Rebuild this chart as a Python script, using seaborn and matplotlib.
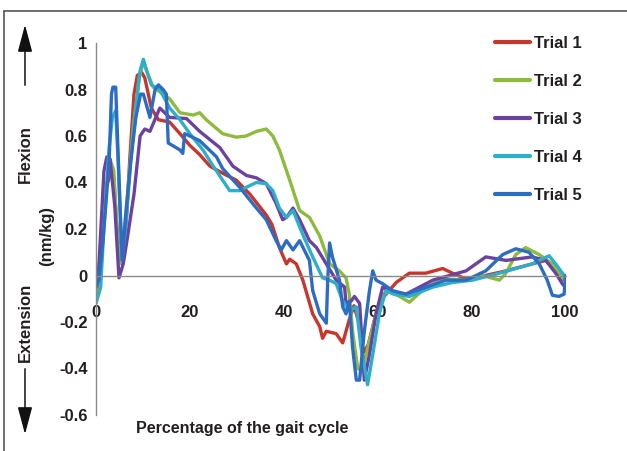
import matplotlib
matplotlib.use("Agg")
import matplotlib.pyplot as plt
from matplotlib.lines import Line2D
from matplotlib.patches import FancyArrowPatch
import seaborn as sns
import pandas as pd

# values (percent of gait cycle, moment in nm/kg)
trial1_x = [0, 1.2, 2.2, 3.1, 3.8, 4.3, 5.0, 5.6, 6.5, 7.2, 8.1, 8.8, 9.7, 10.4, 11.8, 13.3, 15.7, 17.9,
            20, 22.1, 24.3, 27, 29.9, 32.8, 36.3, 37.5, 39.1, 40.6, 41.3, 42.7, 44.1, 46.2, 47.7, 48.3,
            49.1, 51.2, 52.6, 54, 55, 56, 57, 58, 59.5, 61, 62.5, 64, 66.8, 70.3, 73.9, 76, 78.9, 83,
            87.4, 93, 95.9, 98, 99.4, 100]
trial1_y = [-0.11, 0.15, 0.38, 0.44, 0.42, 0.25, 0.08, 0.05, 0.25, 0.5, 0.78, 0.86, 0.875, 0.85, 0.72,
            0.67, 0.66, 0.61, 0.56, 0.52, 0.47, 0.44, 0.41, 0.35, 0.26, 0.22, 0.12, 0.05, 0.07, 0.05,
            -0.02, -0.165, -0.22, -0.27, -0.24, -0.25, -0.29, -0.19, -0.13, -0.2, -0.33, -0.3, -0.18,
            -0.1, -0.065, -0.03, 0.01, 0.01, 0.03, 0.01, -0.015, 0, 0.02, 0.05, 0.065, 0.02, -0.015, -0.02]

trial2_x = [0, 1, 2, 3, 3.8, 4.6, 5.4, 6.5, 8, 9.2, 10.1, 11, 12.2, 14.3, 15.7, 17.9, 20.7, 22.1, 23.5,
            27, 29.9, 32, 34.2, 36.3, 37.7, 39.1, 41.3, 43.4, 45.5, 47.7, 49.8, 51.9, 53.3, 54, 54.7,
            55.8, 56.8, 58.3, 59.7, 61.1, 62.5, 64.7, 66.8, 70.4, 73.9, 78.9, 82.4, 86, 87.4, 89.5,
            91.6, 94.5, 97.3, 99.4, 100]
trial2_y = [-0.08, 0.1, 0.35, 0.5, 0.45, 0.15, 0.05, 0.3, 0.65, 0.85, 0.92, 0.87, 0.81, 0.78, 0.76, 0.70,
            0.69, 0.70, 0.67, 0.61, 0.595, 0.60, 0.62, 0.63, 0.60, 0.54, 0.41, 0.28, 0.25, 0.17, 0.05,
            0.02, -0.01, -0.08, -0.24, -0.40, -0.41, -0.28, -0.165, -0.08, -0.07, -0.09, -0.115, -0.05,
            -0.015, -0.02, 0, -0.02, 0.01, 0.09, 0.12, 0.09, 0.05, -0.01, -0.02]

trial3_x = [0, 0.6, 1.7, 2.3, 3, 4, 4.9, 5.8, 6.6, 8.1, 9.4, 10.4, 11.5, 13.6, 15.7, 19.3, 22.1, 26.4,
            29.2, 32.1, 34.2, 36.3, 38.4, 39.8, 40.6, 42, 43.4, 45.5, 47, 49.1, 51.2, 53, 53.3, 54.4,
            55.1, 56.2, 57.2, 58.3, 59.7, 61.1, 63, 66.1, 71.8, 78.9, 83.1, 87.4, 93, 95.9, 98, 99.4, 100]
trial3_y = [-0.03, 0.035, 0.45, 0.51, 0.5, 0.3, -0.01, 0.05, 0.15, 0.35, 0.60, 0.63, 0.62, 0.72, 0.68,
            0.675, 0.62, 0.55, 0.47, 0.43, 0.42, 0.395, 0.31, 0.24, 0.25, 0.29, 0.24, 0.15, 0.12, 0.05,
            -0.02, -0.05, -0.12, -0.11, -0.09, -0.12, -0.45, -0.34, -0.165, -0.05, -0.07, -0.08, -0.02,
            0.02, 0.08, 0.065, 0.08, 0.065, 0.01, -0.035, -0.05]

trial4_x = [0, 1, 1.7, 2.8, 3.5, 4.2, 4.8, 5.5, 6.3, 7.4, 8.5, 9.4, 10.1, 10.8, 11.8, 13.6, 15.7, 17.9,
            20, 22.8, 25, 27, 28.5, 30.6, 32.1, 34.2, 36.3, 37.7, 39.1, 40.6, 42, 43.4, 44, 46.2, 48.3,
            49.8, 51.2, 52.6, 54, 55.5, 56.5, 57.9, 59, 60.4, 61.8, 63.5, 66.8, 71.8, 76, 80.3, 86, 93,
            96.6, 98, 99.8, 100]
trial4_y = [-0.12, -0.05, 0.21, 0.55, 0.68, 0.71, 0.45, 0.065, 0.2, 0.49, 0.72, 0.88, 0.93, 0.88, 0.82,
            0.80, 0.72, 0.67, 0.61, 0.54, 0.47, 0.41, 0.365, 0.365, 0.38, 0.40, 0.395, 0.365, 0.29, 0.25,
            0.28, 0.21, 0.18, 0.08, -0.01, -0.02, -0.035, -0.11, -0.15, -0.135, -0.31, -0.47, -0.34,
            -0.165, -0.065, -0.08, -0.09, -0.05, -0.03, -0.02, 0.01, 0.05, 0.085, 0.05, 0, -0.02]

trial5_x = [0, 0.6, 1.5, 2.8, 3.3, 3.6, 4.2, 4.5, 5.3, 5.6, 6.3, 7.4, 8.5, 9.5, 10.1, 11.5, 12.6, 13.3,
            14.3, 15, 15.4, 17.9, 18.5, 18.9, 20, 22.1, 25.7, 27, 30.6, 34.2, 36.3, 38.4, 39.5, 40.6,
            42, 43.4, 45.5, 46.2, 47.7, 49.1, 49.4, 49.8, 50.4, 51.9, 52.6, 53.3, 54, 54.7, 55.5, 56.2,
            57.2, 58.3, 59, 59.7, 61.1, 63.2, 66.1, 70.4, 74.6, 78.9, 83.1, 86.7, 89.5, 92.3, 94.5,
            96.2, 97.3, 98.7, 99.8, 100.1]
trial5_y = [-0.05, -0.02, 0.15, 0.49, 0.78, 0.81, 0.81, 0.64, 0.21, 0.065, 0.25, 0.49, 0.68, 0.78, 0.78,
            0.68, 0.80, 0.82, 0.80, 0.78, 0.57, 0.54, 0.525, 0.61, 0.60, 0.58, 0.51, 0.46, 0.38, 0.29,
            0.24, 0.15, 0.11, 0.15, 0.11, 0.15, 0.065, -0.065, -0.165, -0.205, -0.02, 0.14, 0.08, -0.02,
            -0.135, -0.165, -0.11, -0.31, -0.45, -0.45, -0.24, -0.065, 0.02, -0.02, -0.035, -0.065,
            -0.08, -0.05, -0.02, -0.02, 0.02, 0.09, 0.115, 0.10, 0.05, -0.02, -0.085, -0.09, -0.08, 0]

trial_names = ["Trial 1", "Trial 2", "Trial 3", "Trial 4", "Trial 5"]
trial_colors = ["#C8352C", "#8DBB3E", "#6C42A0", "#2DAECB", "#2C6CC2"]

x_ticks = [0, 20, 40, 60, 80, 100]
y_ticks = [-0.6, -0.4, -0.2, 0, 0.2, 0.4, 0.6, 0.8, 1]
y_tick_labels = ["-0.6", "-0.4", "-0.2", "0", "0.2", "0.4", "0.6", "0.8", "1"]

# build a long table for seaborn
xs = [trial1_x, trial2_x, trial3_x, trial4_x, trial5_x]
ys = [trial1_y, trial2_y, trial3_y, trial4_y, trial5_y]
frames = []
for name, x, y in zip(trial_names, xs, ys):
    frames.append(pd.DataFrame({"pct": x, "moment": y, "trial": name}))
df = pd.concat(frames, ignore_index=True)

sns.set_style("white")
plt.rcParams["font.family"] = ["Liberation Sans Narrow", "Liberation Sans", "DejaVu Sans"]
plt.rcParams["font.weight"] = "bold"
text_color = "#231F20"
axis_color = "#8A8A8A"

fig = plt.figure(figsize=(6.27, 4.51), dpi=100)
ax = fig.add_axes([96 / 627, 1 - 415 / 451, 470 / 627, 372 / 451])

sns.lineplot(data=df, x="pct", y="moment", hue="trial", palette=trial_colors,
             estimator=None, sort=False, linewidth=2.4, ax=ax,
             solid_joinstyle="round", solid_capstyle="round")

ax.set_xlim(0, 100.2)
ax.set_ylim(-0.6, 1.0)

# excel-like axes: y axis on the left, x axis crossing at zero
ax.spines["top"].set_visible(False)
ax.spines["right"].set_visible(False)
ax.spines["bottom"].set_position(("data", 0))
for side in ["left", "bottom"]:
    ax.spines[side].set_color(axis_color)
    ax.spines[side].set_linewidth(1.0)

ax.set_xticks(x_ticks)
ax.set_xticklabels([str(t) for t in x_ticks])
ax.set_yticks(y_ticks)
ax.set_yticklabels(y_tick_labels)
ax.tick_params(axis="x", direction="out", length=4, width=1, color=axis_color, pad=17,
               labelsize=12, labelcolor=text_color)
ax.tick_params(axis="y", direction="out", length=4, width=1, color=axis_color, pad=2,
               labelsize=12, labelcolor=text_color)
for lab in ax.get_xticklabels() + ax.get_yticklabels():
    lab.set_fontweight("bold")
ax.set_xlabel("")
ax.set_ylabel("")
ax.grid(False)

# legend at the upper right
handles = [Line2D([0], [0], color=c, linewidth=3) for c in trial_colors]
ax.legend(handles, trial_names, loc="upper left", bbox_to_anchor=(495 / 627, 1 - 36 / 451),
          bbox_transform=fig.transFigure, frameon=False, handlelength=2.1, handletextpad=0.25,
          labelspacing=1.38, borderpad=0, borderaxespad=0,
          prop={"size": 12, "weight": "bold"}, labelcolor=text_color)

# axis titles as free text
fig.text(242 / 627, 1 - 428 / 451, "Percentage of the gait cycle", ha="center", va="center",
         fontsize=11.5, fontweight="bold", color=text_color)
fig.text(47 / 627, 1 - 236 / 451, "(nm/kg)", ha="center", va="center", rotation=90,
         fontsize=12, fontweight="bold", color=text_color)
fig.text(25 / 627, 1 - 154 / 451, "Flexion", ha="center", va="center", rotation=90,
         fontsize=12, fontweight="bold", color=text_color)
fig.text(25 / 627, 1 - 322 / 451, "Extension", ha="center", va="center", rotation=90,
         fontsize=12, fontweight="bold", color=text_color)

# flexion / extension arrows
for start, end in [((25, 88), (25, 22)), ((25, 366), (25, 437))]:
    arrow = FancyArrowPatch((start[0] / 627, 1 - start[1] / 451), (end[0] / 627, 1 - end[1] / 451),
                            transform=fig.transFigure, arrowstyle="-|>,head_length=1.2,head_width=0.32",
                            mutation_scale=14, color="#111111", linewidth=1.1)
    fig.add_artist(arrow)

# thin frame on the top and left edges
fig.add_artist(Line2D([4 / 627, 1], [1 - 11 / 451, 1 - 11 / 451], transform=fig.transFigure,
                      color="#555555", linewidth=1.2))
fig.add_artist(Line2D([4 / 627, 4 / 627], [0, 1 - 11 / 451], transform=fig.transFigure,
                      color="#555555", linewidth=1.2))

fig.savefig("out.png", dpi=100)
